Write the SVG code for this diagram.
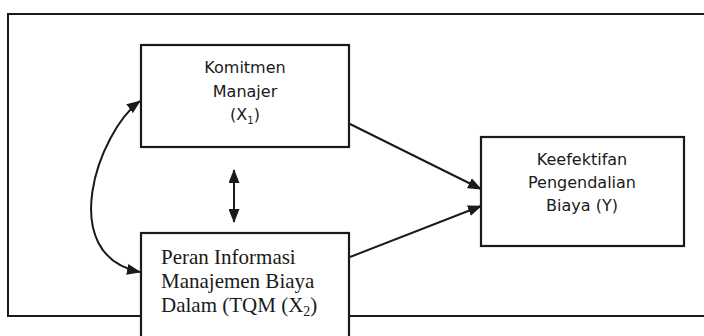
<svg xmlns="http://www.w3.org/2000/svg" width="704" height="336" viewBox="0 0 704 336">
<style>
.box{fill:#fff;stroke:#1a1a1a;stroke-width:2.2}
.ln{fill:none;stroke:#1a1a1a;stroke-width:2}
.sans{font-family:"DejaVu Sans","Verdana",sans-serif;font-size:16px;fill:#1a1a1a;text-anchor:middle}
.serif{font-family:"Liberation Serif","Times New Roman",serif;font-size:21px;fill:#1a1a1a}
</style>
<defs>
<marker id="ah" viewBox="0 0 14 11" refX="13" refY="5.5" markerWidth="14" markerHeight="11" markerUnits="userSpaceOnUse" orient="auto-start-reverse">
<path d="M0,0 L14,5.5 L0,11 Z" fill="#1a1a1a"/>
</marker>
</defs>
<rect width="704" height="336" fill="#fff"/>
<g id="frame">
<path class="ln" d="M706 14 H8 V316 H706"/>
</g>
<g id="connectors">
<path class="ln" d="M350 124 L481 189" marker-end="url(#ah)"/>
<path class="ln" d="M350 257 L481 206" marker-end="url(#ah)"/>
<path class="ln" d="M234 170 V222" marker-start="url(#ah)" marker-end="url(#ah)"/>
<path class="ln" d="M140 101 C98 132 55 255 140 272" marker-start="url(#ah)" marker-end="url(#ah)"/>
</g>
<g id="x1">
<rect class="box" x="141" y="45" width="208" height="102"/>
<text class="sans" x="245" y="73">Komitmen</text>
<text class="sans" x="245" y="97">Manajer</text>
<text class="sans" x="245" y="120">(X<tspan font-size="10" dy="4">1</tspan><tspan dy="-4">)</tspan></text>
</g>
<g id="x2">
<rect class="box" x="141" y="233" width="208" height="110"/>
<text class="serif" x="161" y="264">Peran Informasi</text>
<text class="serif" x="161" y="288">Manajemen Biaya</text>
<text class="serif" x="161" y="312">Dalam (TQM (X<tspan font-size="14" dy="4">2</tspan><tspan dy="-4">)</tspan></text>
</g>
<g id="y">
<rect class="box" x="481" y="137" width="203" height="109"/>
<text class="sans" x="582" y="165">Keefektifan</text>
<text class="sans" x="582" y="188">Pengendalian</text>
<text class="sans" x="582" y="211">Biaya (Y)</text>
</g>
</svg>
